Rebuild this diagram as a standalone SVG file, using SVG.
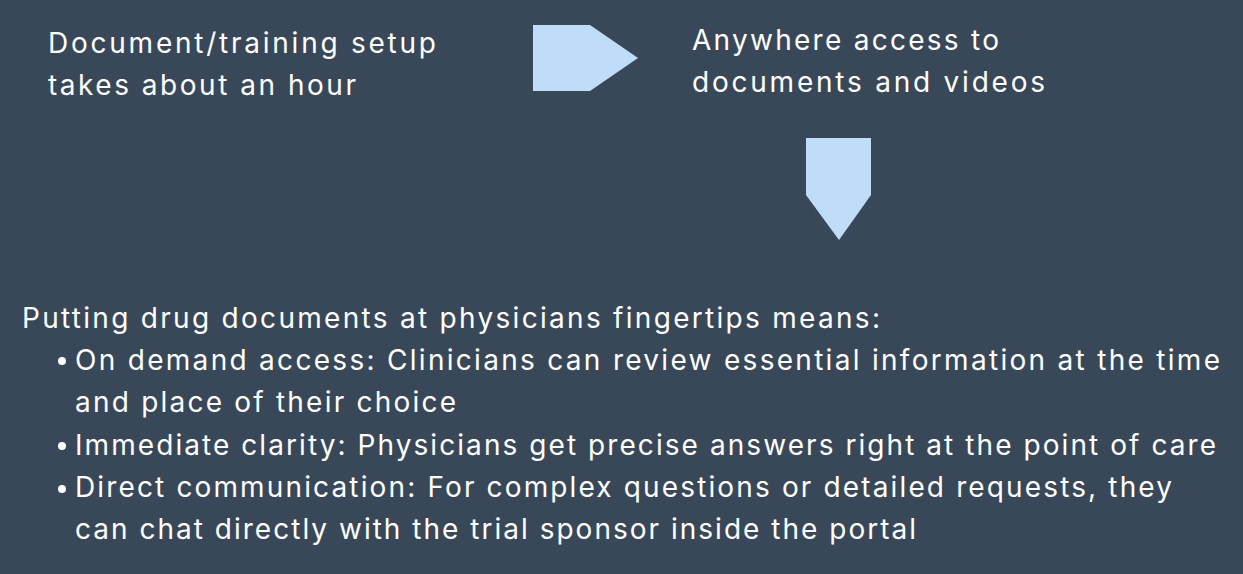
<svg xmlns="http://www.w3.org/2000/svg" width="1243" height="574" viewBox="0 0 1243 574">
<style>
text{font-family:Inter,"Open Sans","Liberation Sans",sans-serif;font-size:28px;fill:#ffffff}
.arrow{fill:#bfdcf8}
</style>
<rect width="1243" height="574" fill="#394858"/>
<g id="node-setup"><text x="48" y="53" textLength="388">Document/training setup</text><text x="48" y="95" textLength="308">takes about an hour</text></g>
<g id="node-access"><text x="692" y="50" textLength="307">Anywhere access to</text><text x="692" y="92" textLength="353">documents and videos</text></g>
<g id="connectors">
<polygon class="arrow" points="533,25 590,25 638,58 590,91 533,91"/>
<polygon class="arrow" points="806,138 871,138 871,195 839,240 806,195"/>
</g>
<g id="node-summary">
<text x="22" y="328" textLength="858">Putting drug documents at physicians fingertips means:</text>
<circle cx="62" cy="361" r="4" fill="#fff"/><circle cx="62" cy="446" r="4" fill="#fff"/><circle cx="62" cy="489" r="4" fill="#fff"/>
<text x="75" y="370" textLength="1145">On demand access: Clinicians can review essential information at the time</text>
<text x="75" y="412" textLength="381">and place of their choice</text>
<text x="75" y="455" textLength="1141">Immediate clarity: Physicians get precise answers right at the point of care</text>
<text x="75" y="497" textLength="1097">Direct communication: For complex questions or detailed requests, they</text>
<text x="75" y="539" textLength="841">can chat directly with the trial sponsor inside the portal</text>
</g>
</svg>
